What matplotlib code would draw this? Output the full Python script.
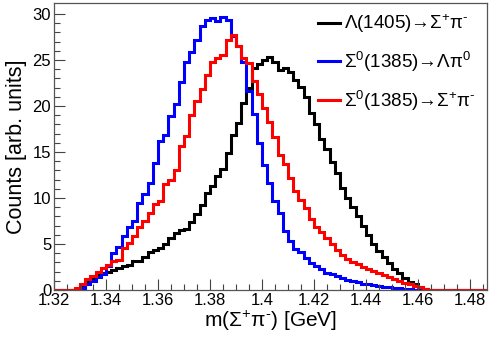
import numpy as np
import matplotlib
matplotlib.use("Agg")
import matplotlib.pyplot as plt
from matplotlib.lines import Line2D

plt.rcParams['font.family'] = ['Liberation Sans', 'DejaVu Sans']
plt.rcParams['mathtext.fontset'] = 'custom'
plt.rcParams['mathtext.rm'] = 'Liberation Sans'
plt.rcParams['mathtext.it'] = 'Liberation Sans'
plt.rcParams['mathtext.bf'] = 'Liberation Sans:bold'

# histogram binning (GeV)
bin_start = 1.32
bin_width = 0.002
n_bins = 83

# bin contents
lambda1405 = [0, 0, 0, 0, 0.1, 0.4, 0.9, 1.3, 1.6, 1.8,
              2.0, 2.2, 2.4, 2.6, 2.7, 3.1, 3.2, 3.6, 4.1, 4.3,
              4.6, 5.0, 5.6, 6.2, 6.5, 6.6, 7.4, 8.3, 9.2, 10.5,
              11.3, 12.4, 13.2, 14.9, 16.8, 18.2, 20.3, 22.0, 24.1, 24.6,
              25.0, 25.3, 24.8, 23.9, 24.1, 23.7, 22.8, 22.1, 21.0, 19.2,
              18.1, 16.4, 15.3, 13.9, 12.7, 11.1, 10.0, 9.0, 8.0, 7.0,
              6.0, 5.0, 4.2, 3.6, 2.9, 2.3, 1.8, 1.3, 0.9, 0.6,
              0.35, 0.15, 0, 0, 0, 0, 0, 0, 0, 0, 0, 0, 0]
sigma_lpi0 = [0, 0, 0, 0, 0, 0.2, 0.6, 1.0, 1.4, 1.7,
              2.6, 4.0, 4.7, 5.9, 6.8, 7.5, 9.5, 10.4, 11.6, 13.8,
              16.2, 16.8, 18.9, 20.2, 22.6, 24.8, 25.9, 27.2, 28.7, 29.3,
              29.6, 29.2, 29.7, 29.3, 27.6, 26.5, 24.8, 21.6, 19.1, 16.0,
              13.6, 11.6, 9.7, 8.4, 6.4, 5.3, 4.5, 4.1, 3.5, 2.9,
              2.6, 2.3, 1.9, 1.7, 1.5, 1.3, 1.1, 1.0, 0.85, 0.7,
              0.6, 0.5, 0.4, 0.35, 0.3, 0.25, 0.2, 0.15, 0.1, 0.05,
              0, 0, 0, 0, 0, 0, 0, 0, 0, 0, 0, 0, 0]
sigma_spi = [0, 0, 0, 0, 0.2, 0.6, 1.2, 1.5, 2.0, 2.4,
             2.7, 3.2, 3.3, 4.6, 5.1, 5.9, 6.8, 7.5, 8.4, 9.4,
             9.7, 11.5, 12.0, 13.0, 15.7, 16.7, 19.0, 20.6, 21.9, 23.4,
             24.8, 25.2, 25.6, 27.2, 27.7, 26.5, 25.2, 24.7, 22.7, 21.3,
             19.8, 18.3, 16.6, 14.7, 13.7, 12.2, 10.8, 9.8, 8.9, 7.7,
             6.9, 6.3, 5.7, 5.0, 4.4, 3.8, 3.4, 3.0, 2.8, 2.5,
             2.3, 2.1, 1.8, 1.6, 1.4, 1.2, 1.0, 0.8, 0.6, 0.4,
             0.3, 0.1, 0, 0, 0, 0, 0, 0, 0, 0, 0, 0, 0]

labels = ['Λ(1405)→Σ$^{+}$π$^{\\text{-}}$',
          'Σ$^{0}$(1385)→Λπ$^{0}$',
          'Σ$^{0}$(1385)→Σ$^{+}$π$^{\\text{-}}$']
colors = ['black', '#0000ff', '#ff0000']

edges = bin_start + bin_width * np.arange(n_bins + 1)

fig = plt.figure(figsize=(4.93, 3.38), dpi=100)
ax = fig.add_axes([54 / 493, 48 / 338, 433 / 493, 287 / 338])

for vals, c in zip([lambda1405, sigma_lpi0, sigma_spi], colors):
    ax.stairs(vals, edges, baseline=None, color=c, lw=2.2)

ax.set_xlim(1.32, 1.4865)
ax.set_ylim(0, 31.2)
ax.set_xticks(np.arange(1.32, 1.481, 0.02))
ax.set_xticklabels(['1.32', '1.34', '1.36', '1.38', '1.4', '1.42', '1.44', '1.46', '1.48'])
ax.set_xticks(np.arange(1.32, 1.4866, 0.005), minor=True)
ax.set_yticks(np.arange(0, 31, 5))
ax.set_yticks(np.arange(0, 31, 1), minor=True)
ax.tick_params(which='both', direction='in', top=False, right=False,
               labelsize=12, color='#444444', width=0.8)
ax.tick_params(which='major', length=8, pad=2)
ax.tick_params(which='minor', length=4)
for s in ax.spines.values():
    s.set_color('#555555')
    s.set_linewidth(0.9)

ax.set_xlabel('m(Σ$^{+}$π$^{\\text{-}}$) [GeV]', fontsize=15, labelpad=1)
ax.set_ylabel('Counts [arb. units]', fontsize=15.5, labelpad=4)

handles = [Line2D([], [], color=c, lw=2.2) for c in colors]
ax.legend(handles, labels, loc='upper left', bbox_to_anchor=((309 - 54) / 433, 1.0),
          frameon=False, fontsize=13.5, handlelength=1.15, handletextpad=0.2,
          labelspacing=0.78, borderpad=0.5, borderaxespad=0.0)

fig.savefig('out.png', dpi=100)
